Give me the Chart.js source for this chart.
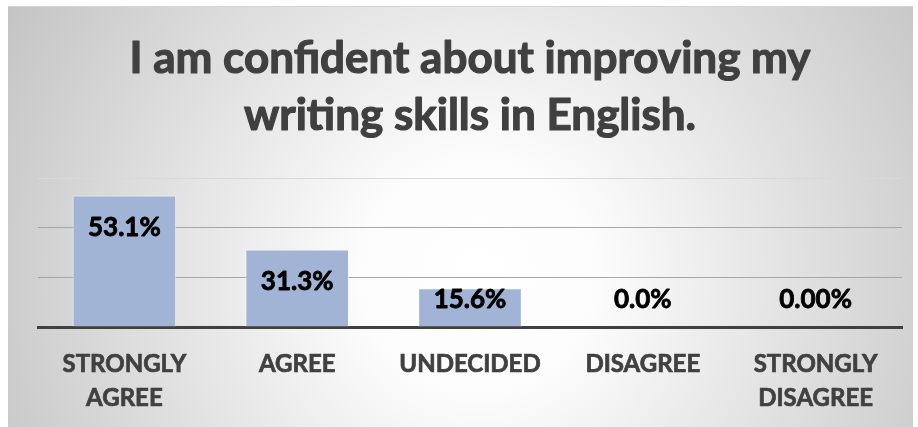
<!DOCTYPE html>
<html>
<head>
<meta charset="utf-8">
<script src="https://cdn.jsdelivr.net/npm/chart.js@4"></script>
<style>
  html, body { margin: 0; padding: 0; background: #fff; }
  #wrap { position: relative; width: 918px; height: 427px; }
  #bg {
    position: absolute; left: 8px; top: 6px; width: 905px; height: 421px;
    border-top: 1px solid #d6d6d6;
    background: radial-gradient(circle farthest-corner at 52% 64%, #ffffff 0%, #fcfcfc 22%, #e4e4e4 55%, #c4c4c4 100%);
  }
  #chart { position: absolute; left: 0; top: 0; }
</style>
</head>
<body>
<div id="wrap">
  <div id="bg"></div>
  <canvas id="chart" width="918" height="427"></canvas>
</div>
<script>
const categories = [['STRONGLY', 'AGREE'], 'AGREE', 'UNDECIDED', 'DISAGREE', ['STRONGLY', 'DISAGREE']];
const percentages = [53.1, 31.3, 15.6, 0, 0];
const labelDecimals = [1, 1, 1, 1, 2];
const yTicks = [0, 20, 40, 60];
const titleLines = ['I am confident about improving my', 'writing skills in English.'];

const FONT = 'Lato, "Noto Sans", sans-serif';
const TEXT_GREY = '#404040';

// value labels sit just inside the bar top, but never drop below the baseline band
const barValueLabels = {
  id: 'barValueLabels',
  afterDatasetsDraw(chart) {
    const { ctx, scales } = chart;
    const base = scales.y.getPixelForValue(0);
    const meta = chart.getDatasetMeta(0);
    ctx.save();
    ctx.font = 'bold 26px ' + FONT;
    ctx.fillStyle = '#000';
    ctx.strokeStyle = '#000';
    ctx.lineWidth = 0.8;
    ctx.lineJoin = 'round';
    ctx.textAlign = 'center';
    ctx.textBaseline = 'middle';
    meta.data.forEach((bar, i) => {
      const y = Math.min(bar.y + 32, base - 27);
      const txt = percentages[i].toFixed(labelDecimals[i]) + '%';
      ctx.strokeText(txt, bar.x, y);
      ctx.fillText(txt, bar.x, y);
    });
    ctx.restore();
  }
};

// thicken the title strokes a little by outlining it in the same colour
const heavyTitle = {
  id: 'heavyTitle',
  afterDraw(chart) {
    const t = chart.titleBlock;
    if (!t) return;
    const opts = t.options;
    const lh = opts.font.size * opts.font.lineHeight;
    const ctx = chart.ctx;
    ctx.save();
    ctx.font = `bold ${opts.font.size}px ${FONT}`;
    ctx.strokeStyle = TEXT_GREY;
    ctx.lineWidth = 1.2;
    ctx.lineJoin = 'round';
    ctx.textAlign = 'center';
    ctx.textBaseline = 'middle';
    const cx = (t.left + t.right) / 2;
    titleLines.forEach((line, i) => {
      ctx.strokeText(line, cx, t.top + opts.padding.top + lh * (i + 0.5));
    });
    ctx.restore();
  }
};

new Chart(document.getElementById('chart'), {
  type: 'bar',
  data: {
    labels: categories,
    datasets: [{
      data: percentages,
      backgroundColor: '#a2b4d6',
      borderColor: 'rgba(255,255,255,0.7)',
      borderWidth: 1,
      barPercentage: 0.6,
      categoryPercentage: 1
    }]
  },
  options: {
    responsive: false,
    animation: false,
    layout: { padding: { left: 38, right: 16, top: 0, bottom: 0 } },
    plugins: {
      legend: { display: false },
      tooltip: { enabled: false },
      title: {
        display: true,
        text: titleLines,
        color: TEXT_GREY,
        font: { family: FONT, size: 44, weight: 'bold', lineHeight: 1.3 },
        padding: { top: 30, bottom: 34 }
      }
    },
    scales: {
      x: {
        grid: { display: false, drawTicks: false },
        border: { display: true, color: TEXT_GREY, width: 3 },
        ticks: {
          color: TEXT_GREY,
          textStrokeColor: TEXT_GREY,
          textStrokeWidth: 0.7,
          font: { family: FONT, size: 24, weight: 'bold', lineHeight: 1.417 },
          padding: 20,
          maxRotation: 0,
          autoSkip: false
        },
        afterFit: (scale) => { scale.height = 100; }
      },
      y: {
        min: yTicks[0],
        max: yTicks[yTicks.length - 1],
        afterBuildTicks: (axis) => { axis.ticks = yTicks.map(v => ({ value: v })); },
        ticks: { display: false },
        border: { display: false },
        grid: {
          drawTicks: false,
          color: (c) => c.tick && c.tick.value === 60 ? '#d9d9d9' : '#a6a6a6',
          lineWidth: 1
        }
      }
    }
  },
  plugins: [barValueLabels, heavyTitle]
});
</script>
</body>
</html>
